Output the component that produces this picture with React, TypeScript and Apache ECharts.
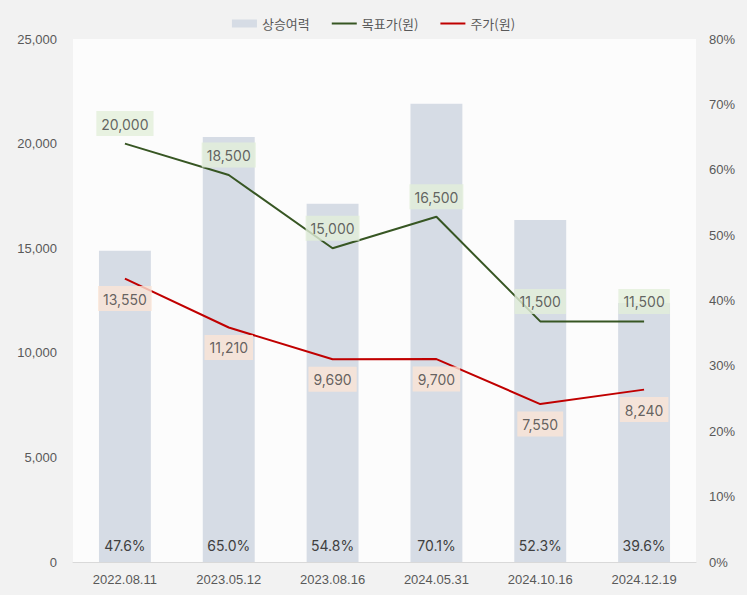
import React, { useEffect, useRef } from "react";
import * as echarts from "echarts";

const categories = ["2022.08.11", "2023.05.12", "2023.08.16", "2024.05.31", "2024.10.16", "2024.12.19"];
const upside = [47.6, 65.0, 54.8, 70.1, 52.3, 39.6];
const targetPrice = [20000, 18500, 15000, 16500, 11500, 11500];
const stockPrice = [13550, 11210, 9690, 9700, 7550, 8240];
const leftTicks = { min: 0, max: 25000, interval: 5000 };
const rightTicks = { min: 0, max: 80, interval: 10 };

const axisFont = "'Liberation Sans', 'Noto Sans CJK KR', sans-serif";
const labelFont = "Inter, 'Noto Sans', sans-serif";
const lineIcon = "path://M0,0 L25,0 L25,2 L0,2 Z";

export default function App() {
  const ref = useRef<HTMLDivElement>(null);
  useEffect(() => {
    if (!ref.current) return;
    const chart = echarts.init(ref.current, undefined, { renderer: "svg" });
    const fmt = (v: number) => v.toLocaleString("en-US");
    const pointLabel = (bg: string, pos: string) => ({
      show: true,
      position: pos,
      distance: 7,
      formatter: (p: any) => fmt(p.value),
      color: "#404040",
      fontSize: 14,
      fontFamily: labelFont,
      backgroundColor: bg,
      padding: [6, 5, 5, 5],
    });
    chart.setOption({
      animation: false,
      backgroundColor: "#f2f2f2",
      textStyle: { fontFamily: axisFont },
      legend: {
        top: 12,
        left: "center",
        itemGap: 22,
        itemWidth: 25,
        itemHeight: 8,
        textStyle: { fontFamily: "'Noto Sans CJK KR', sans-serif", fontSize: 13, color: "#595959" },
        data: [
          { name: "상승여력", icon: "rect" },
          { name: "목표가(원)", icon: lineIcon, itemStyle: { color: "#375623" } },
          { name: "주가(원)", icon: lineIcon, itemStyle: { color: "#c00000" } },
        ],
      },
      grid: {
        left: 73,
        right: 51,
        top: 39,
        bottom: 33,
        show: true,
        backgroundColor: "#fcfcfc",
        borderWidth: 0,
      },
      xAxis: {
        type: "category",
        data: categories,
        axisTick: { show: false },
        axisLine: { lineStyle: { color: "#d9d9d9", width: 1 } },
        axisLabel: { color: "#595959", fontSize: 13, margin: 11, fontFamily: axisFont },
      },
      yAxis: [
        {
          type: "value",
          min: leftTicks.min,
          max: leftTicks.max,
          interval: leftTicks.interval,
          splitLine: { show: false },
          axisLine: { show: false },
          axisTick: { show: false },
          axisLabel: { color: "#595959", fontSize: 13, margin: 16, formatter: (v: number) => fmt(v), fontFamily: axisFont },
        },
        {
          type: "value",
          min: rightTicks.min,
          max: rightTicks.max,
          interval: rightTicks.interval,
          splitLine: { show: false },
          axisLine: { show: false },
          axisTick: { show: false },
          axisLabel: { color: "#595959", fontSize: 13, margin: 13, formatter: (v: number) => v + "%", fontFamily: axisFont },
        },
      ],
      series: [
        {
          name: "상승여력",
          type: "bar",
          yAxisIndex: 1,
          data: upside,
          barWidth: "50%",
          itemStyle: { color: "#d6dce5" },
          label: {
            show: true,
            position: "insideBottom",
            distance: 10,
            formatter: (p: any) => p.value.toFixed(1) + "%",
            color: "#404040",
            fontSize: 14,
            fontFamily: labelFont,
          },
        },
        {
          name: "목표가(원)",
          type: "line",
          yAxisIndex: 0,
          data: targetPrice,
          symbol: "none",
          lineStyle: { color: "#375623", width: 2 },
          itemStyle: { color: "#375623" },
        },
        {
          name: "주가(원)",
          type: "line",
          yAxisIndex: 0,
          data: stockPrice,
          symbol: "none",
          lineStyle: { color: "#c00000", width: 2 },
          itemStyle: { color: "#c00000" },
        },
        {
          name: "목표가 라벨",
          type: "scatter",
          yAxisIndex: 0,
          data: targetPrice,
          symbolSize: 1,
          itemStyle: { color: "rgba(0,0,0,0)" },
          label: pointLabel("#e2efda", "top"),
          z: 5,
        },
        {
          name: "주가 라벨",
          type: "scatter",
          yAxisIndex: 0,
          data: stockPrice,
          symbolSize: 1,
          itemStyle: { color: "rgba(0,0,0,0)" },
          label: pointLabel("#fbe5d6", "bottom"),
          z: 5,
        },
      ],
    });
    return () => chart.dispose();
  }, []);
  return (
    <div
      ref={ref}
      style={{ position: "absolute", left: 0, top: 0, width: 747, height: 595 }}
    />
  );
}
